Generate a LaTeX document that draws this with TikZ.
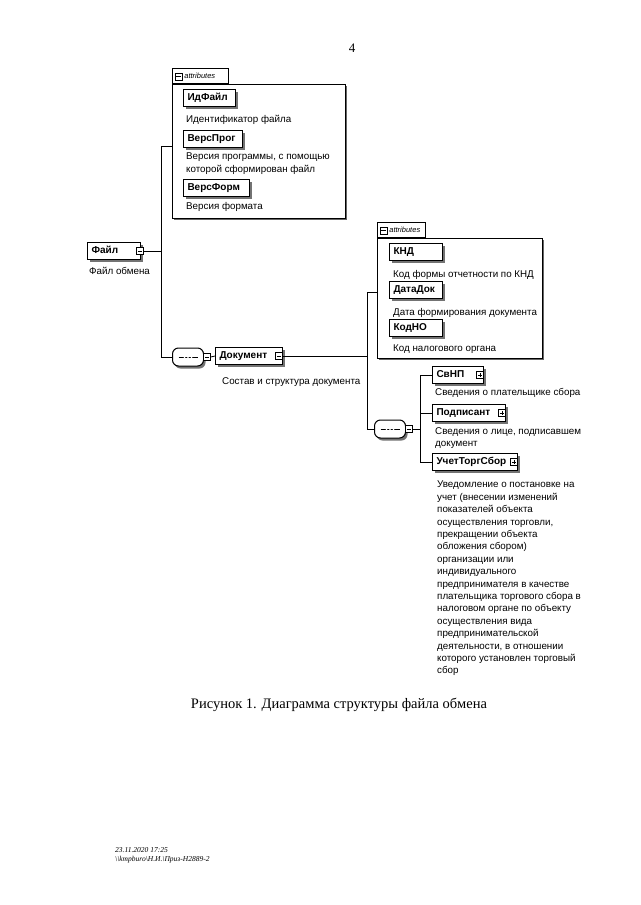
\documentclass[tikz,border=0pt]{standalone}
\usepackage{fontspec}
\setmainfont{Liberation Serif}
\setsansfont{Liberation Sans}
\usetikzlibrary{shadows}
\tikzstyle{wire} = [draw=black, line width=0.8pt]
\tikzstyle{descr} = [anchor=north west, inner sep=0pt, align=left, font={\sffamily\fontsize{9.8}{12.4}\selectfont}]
\tikzstyle{grpbox} = [draw=black, fill=white, line width=0.8pt, anchor=north west, inner sep=0pt, drop shadow={shadow xshift=1.2pt, shadow yshift=-1.2pt, fill=black!60, opacity=1}]
\tikzstyle{grptab} = [draw=black, fill=white, line width=0.8pt, anchor=south west, minimum height=15pt, inner xsep=1pt, inner ysep=0pt, text width=54pt, font={\sffamily\itshape\fontsize{7.5}{8}\selectfont}]
\tikzstyle{minusbox} = [draw=black, fill=white, line width=0.5pt, minimum size=7pt, inner sep=0pt,
  path picture={\draw ([xshift=1.3pt]path picture bounding box.west) -- ([xshift=-1.3pt]path picture bounding box.east);}]
\tikzstyle{plusbox} = [minusbox,
  path picture={\draw ([xshift=1.3pt]path picture bounding box.west) -- ([xshift=-1.3pt]path picture bounding box.east);
    \draw ([yshift=-1.3pt]path picture bounding box.north) -- ([yshift=1.3pt]path picture bounding box.south);}]
\tikzstyle{seqbox} = [draw=black, fill=white, line width=1pt, rounded corners=6pt, minimum width=31pt, minimum height=18pt, inner sep=0pt,
  drop shadow={shadow xshift=2pt, shadow yshift=-2.5pt, fill=black!55, opacity=1},
  path picture={\draw ([xshift=6pt]path picture bounding box.west) -- ([xshift=-6pt]path picture bounding box.east);
    \foreach \d in {-3.5,0,3.5} \fill ([xshift=\d pt]path picture bounding box.center) circle (1pt);}]
\tikzset{elem/.style={draw=black, fill=white, line width=1pt, anchor=west, minimum height=17pt, inner xsep=4pt, inner ysep=0pt,
  text width=#1, text height=7.4pt, text depth=2.4pt, font={\sffamily\bfseries\fontsize{10}{12}\selectfont},
  drop shadow={shadow xshift=2pt, shadow yshift=-2.5pt, fill=black!55, opacity=1}},
  elem/.default=45pt}

\begin{document}
\begin{tikzpicture}[x=1pt,y=-1pt]
        \fill[white] (0,0) rectangle (640,905);
        \useasboundingbox (0,0) rectangle (640,905);
        \node[font=\fontsize{13}{15}\selectfont] (pagenum) at (352,48) {4};
        % attributes of the file
        \node[grpbox, minimum width=173pt, minimum height=134pt] (grpA) at (172,84) {};
        \node[grptab] (tabA) at (172,84) {\hspace*{11pt}attributes};
        \node[minusbox] (tabApm) at (178.5,76.5) {};
        \node[elem=44pt] (idfajl) at (183,98) {ИдФайл};
        \node[descr] (idfajld) at (186,115) {Идентификатор файла};
        \node[elem=51pt] (versprog) at (183,139) {ВерсПрог};
        \node[descr] (versprogd) at (186,153) {Версия программы, с помощью\\которой сформирован файл};
        \node[elem=58pt] (versform) at (183,188) {ВерсФорм};
        \node[descr] (versformd) at (186,202) {Версия формата};
        % root element
        \node[elem=45pt] (fajl) at (87,251) {Файл};
        \node[minusbox] (fajlpm) at ([xshift=-1pt]fajl.east) {};
        \node[descr] (fajld) at (89,267) {Файл обмена};
        \coordinate (grpAin) at (172,146);
        \coordinate (spA) at (161,357);
        \draw[wire] (fajlpm.east) -- (fajlpm.east -| spA);
        \node[seqbox] (seqA) at (188,357) {};
        \node[minusbox] (seqApm) at (207,357) {};
        \draw[wire] (grpAin) -| (spA) -- (seqA.west);
        \node[elem=59pt] (dok) at (215,356) {Документ};
        \node[minusbox] (dokpm) at ([xshift=-4pt]dok.east) {};
        \node[descr] (dokd) at (222,377) {Состав и структура документа};
        \draw[wire] (seqApm.east) -- (dok.west);
        % attributes of the document
        \node[grpbox, minimum width=165pt, minimum height=120pt] (grpB) at (377,238) {};
        \node[grptab, text width=46pt] (tabB) at (377,238) {\hspace*{11pt}attributes};
        \node[minusbox] (tabBpm) at (383.5,230.5) {};
        \node[elem=45pt] (knd) at (389,252) {КНД};
        \node[descr] (kndd) at (393,270) {Код формы отчетности по КНД};
        \node[elem=45pt] (datadok) at (389,290) {ДатаДок};
        \node[descr] (datadokd) at (393,308) {Дата формирования документа};
        \node[elem=45pt] (kodno) at (389,328) {КодНО};
        \node[descr] (kodnod) at (393,345) {Код налогового органа};
        \coordinate (grpBin) at (377,292);
        \coordinate (spB) at (367,429);
        \draw[wire] (dokpm.east) -- (dokpm.east -| spB);
        \node[seqbox] (seqB) at (390,429) {};
        \node[minusbox] (seqBpm) at (409,429) {};
        \draw[wire] (grpBin) -| (spB) -- (seqB.west);
        % child elements
        \coordinate (spC) at (420,429);
        \draw[wire] (seqBpm.east) -- (spC);
        \node[elem=43pt] (svnp) at (432,375) {СвНП};
        \node[plusbox] (svnppm) at ([xshift=-4pt]svnp.east) {};
        \node[descr] (svnpd) at (435,388) {Сведения о плательщике сбора};
        \node[elem=65pt] (podp) at (432,413) {Подписант};
        \node[plusbox] (podppm) at ([xshift=-4pt]podp.east) {};
        \node[descr] (podpd) at (435,427) {Сведения о лице, подписавшем\\документ};
        \node[elem=77pt] (uchet) at (432,462) {УчетТоргСбор};
        \node[plusbox] (uchetpm) at ([xshift=-4pt]uchet.east) {};
        \node[descr] (uchetd) at (437,481) {Уведомление о постановке на\\учет (внесении изменений\\показателей объекта\\осуществления торговли,\\прекращении объекта\\обложения сбором)\\организации или\\индивидуального\\предпринимателя в качестве\\плательщика торгового сбора в\\налоговом органе по объекту\\осуществления вида\\предпринимательской\\деятельности, в отношении\\которого установлен торговый\\сбор};
        \foreach \n in {svnp,podp,uchet}
          \draw[wire] (\n.west) -| (spC);
        % caption and footer
        \node[font=\fontsize{14.5}{16}\selectfont] (caption) at (339,705) {Рисунок 1. Диаграмма структуры файла обмена};
        \node[anchor=north west, inner sep=0pt, align=left, font={\itshape\fontsize{7.5}{9}\selectfont}] (footer) at (115,847) {23.11.2020 17:25\\\textbackslash\textbackslash kmpburo\textbackslash Н.И.\textbackslash Приз-Н2889-2};
      \end{tikzpicture}
\end{document}
